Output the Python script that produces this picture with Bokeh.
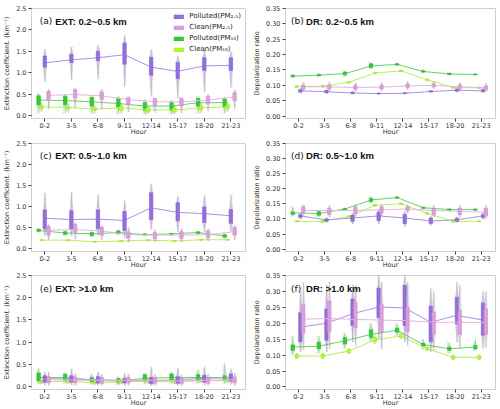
from bokeh.plotting import figure
from bokeh.layouts import gridplot
from bokeh.models import Range1d, FixedTicker, Label, Legend, LegendItem, PrintfTickFormatter
from bokeh.embed import file_html
from bokeh.resources import INLINE

hours = ["0-2", "3-5", "6-8", "9-11", "12-14", "15-17", "18-20", "21-23"]
legend_labels = ["Polluted(PM₂.₅)", "Clean(PM₂.₅)", "Polluted(PM₁₀)", "Clean(PM₁₀)"]

# ---- (a) EXT 0.2~0.5 km ----
a_p25_mean = [1.23, 1.30, 1.35, 1.42, 1.13, 1.03, 1.16, 1.17]
a_p25_q1 = [1.13, 1.24, 1.28, 1.20, 0.94, 0.86, 1.05, 1.05]
a_p25_q3 = [1.39, 1.43, 1.50, 1.69, 1.36, 1.24, 1.35, 1.35]
a_p25_lo = [0.78, 0.83, 0.85, 0.68, 0.45, 0.40, 0.55, 0.65]
a_p25_hi = [1.55, 1.60, 1.65, 1.88, 1.55, 1.40, 1.55, 1.50]
a_c25_mean = [0.47, 0.49, 0.46, 0.37, 0.32, 0.32, 0.36, 0.43]
a_c25_q1 = [0.38, 0.41, 0.38, 0.25, 0.22, 0.22, 0.27, 0.35]
a_c25_q3 = [0.56, 0.60, 0.55, 0.42, 0.40, 0.40, 0.45, 0.53]
a_c25_lo = [0.15, 0.17, 0.15, 0.08, 0.06, 0.06, 0.10, 0.15]
a_c25_hi = [0.62, 0.65, 0.62, 0.45, 0.42, 0.42, 0.50, 0.60]
a_p10_mean = [0.36, 0.35, 0.32, 0.28, 0.22, 0.22, 0.30, 0.30]
a_p10_q1 = [0.25, 0.25, 0.22, 0.20, 0.12, 0.12, 0.22, 0.20]
a_p10_q3 = [0.46, 0.45, 0.42, 0.40, 0.30, 0.30, 0.40, 0.38]
a_p10_lo = [0.05, 0.05, 0.04, 0.03, 0.02, 0.02, 0.05, 0.05]
a_p10_hi = [0.52, 0.50, 0.48, 0.45, 0.38, 0.36, 0.45, 0.44]
a_c10_mean = [0.20, 0.19, 0.15, 0.18, 0.13, 0.13, 0.18, 0.20]
a_c10_q1 = [0.17, 0.15, 0.12, 0.12, 0.08, 0.08, 0.14, 0.16]
a_c10_q3 = [0.23, 0.22, 0.18, 0.22, 0.18, 0.17, 0.22, 0.25]
a_c10_lo = [0.08, 0.07, 0.05, 0.05, 0.03, 0.03, 0.06, 0.08]
a_c10_hi = [0.30, 0.28, 0.24, 0.28, 0.25, 0.24, 0.30, 0.32]

# ---- (b) DR 0.2~0.5 km ----
b_p25_mean = [0.082, 0.079, 0.075, 0.073, 0.074, 0.080, 0.084, 0.082]
b_p25_q1 = [0.078, 0.076, 0.073, 0.072, 0.073, 0.078, 0.081, 0.079]
b_p25_q3 = [0.086, 0.083, 0.078, 0.075, 0.076, 0.082, 0.088, 0.086]
b_p25_lo = [0.074, 0.072, 0.070, 0.070, 0.071, 0.076, 0.077, 0.075]
b_p25_hi = [0.090, 0.087, 0.081, 0.077, 0.078, 0.084, 0.092, 0.090]
b_c25_mean = [0.095, 0.095, 0.093, 0.094, 0.098, 0.100, 0.095, 0.092]
b_c25_q1 = [0.088, 0.089, 0.087, 0.088, 0.093, 0.095, 0.089, 0.086]
b_c25_q3 = [0.101, 0.101, 0.099, 0.100, 0.104, 0.105, 0.101, 0.098]
b_c25_lo = [0.080, 0.081, 0.080, 0.080, 0.085, 0.088, 0.081, 0.079]
b_c25_hi = [0.110, 0.110, 0.108, 0.110, 0.113, 0.113, 0.110, 0.107]
b_p10_mean = [0.130, 0.133, 0.138, 0.163, 0.168, 0.145, 0.137, 0.135]
b_p10_q1 = [0.128, 0.131, 0.134, 0.158, 0.166, 0.143, 0.135, 0.134]
b_p10_q3 = [0.133, 0.135, 0.143, 0.170, 0.170, 0.147, 0.139, 0.137]
b_p10_lo = [0.124, 0.128, 0.128, 0.152, 0.163, 0.139, 0.132, 0.132]
b_p10_hi = [0.137, 0.139, 0.148, 0.175, 0.174, 0.152, 0.142, 0.139]
b_c10_mean = [0.096, 0.097, 0.110, 0.140, 0.147, 0.118, 0.093, 0.092]
b_c10_q1 = [0.094, 0.095, 0.108, 0.138, 0.145, 0.116, 0.091, 0.090]
b_c10_q3 = [0.098, 0.099, 0.112, 0.142, 0.149, 0.120, 0.095, 0.094]
b_c10_lo = [0.092, 0.093, 0.106, 0.136, 0.143, 0.114, 0.089, 0.088]
b_c10_hi = [0.100, 0.101, 0.114, 0.144, 0.151, 0.122, 0.097, 0.096]

# ---- (c) EXT 0.5~1.0 km ----
c_p25_mean = [0.72, 0.69, 0.70, 0.67, 0.97, 0.86, 0.83, 0.78]
c_p25_q1 = [0.47, 0.47, 0.47, 0.43, 0.69, 0.66, 0.62, 0.60]
c_p25_q3 = [0.92, 0.90, 0.92, 0.88, 1.33, 1.09, 0.99, 0.93]
c_p25_lo = [0.30, 0.30, 0.30, 0.25, 0.45, 0.40, 0.40, 0.40]
c_p25_hi = [1.33, 1.35, 1.28, 1.15, 1.55, 1.25, 1.27, 1.28]
c_c25_mean = [0.44, 0.45, 0.42, 0.33, 0.32, 0.32, 0.33, 0.40]
c_c25_q1 = [0.32, 0.38, 0.32, 0.25, 0.24, 0.24, 0.26, 0.32]
c_c25_q3 = [0.52, 0.58, 0.50, 0.40, 0.38, 0.40, 0.42, 0.50]
c_c25_lo = [0.20, 0.22, 0.20, 0.15, 0.15, 0.15, 0.18, 0.20]
c_c25_hi = [0.58, 0.62, 0.55, 0.50, 0.45, 0.48, 0.48, 0.56]
c_p10_mean = [0.43, 0.37, 0.35, 0.38, 0.33, 0.35, 0.38, 0.30]
c_p10_q1 = [0.41, 0.34, 0.31, 0.36, 0.32, 0.34, 0.36, 0.27]
c_p10_q3 = [0.46, 0.40, 0.38, 0.42, 0.35, 0.36, 0.40, 0.33]
c_p10_lo = [0.38, 0.30, 0.27, 0.32, 0.30, 0.33, 0.34, 0.24]
c_p10_hi = [0.48, 0.43, 0.41, 0.46, 0.36, 0.37, 0.41, 0.36]
c_c10_mean = [0.20, 0.20, 0.16, 0.18, 0.20, 0.18, 0.21, 0.21]
c_c10_q1 = [0.19, 0.19, 0.15, 0.17, 0.19, 0.17, 0.20, 0.20]
c_c10_q3 = [0.21, 0.21, 0.17, 0.19, 0.21, 0.19, 0.22, 0.22]
c_c10_lo = [0.18, 0.18, 0.14, 0.16, 0.18, 0.16, 0.19, 0.19]
c_c10_hi = [0.22, 0.22, 0.18, 0.20, 0.22, 0.20, 0.23, 0.23]

# ---- (d) DR 0.5~1.0 km ----
d_p25_mean = [0.110, 0.097, 0.103, 0.110, 0.103, 0.093, 0.097, 0.110]
d_p25_q1 = [0.105, 0.092, 0.092, 0.095, 0.085, 0.085, 0.092, 0.105]
d_p25_q3 = [0.114, 0.100, 0.112, 0.122, 0.115, 0.103, 0.102, 0.115]
d_p25_lo = [0.098, 0.088, 0.083, 0.083, 0.075, 0.078, 0.088, 0.098]
d_p25_hi = [0.120, 0.105, 0.118, 0.132, 0.125, 0.110, 0.108, 0.122]
d_c25_mean = [0.128, 0.128, 0.128, 0.130, 0.133, 0.128, 0.125, 0.122]
d_c25_q1 = [0.120, 0.115, 0.118, 0.120, 0.128, 0.115, 0.115, 0.110]
d_c25_q3 = [0.140, 0.135, 0.140, 0.140, 0.140, 0.135, 0.135, 0.135]
d_c25_lo = [0.110, 0.105, 0.108, 0.110, 0.118, 0.105, 0.105, 0.100]
d_c25_hi = [0.148, 0.145, 0.148, 0.148, 0.147, 0.145, 0.145, 0.145]
d_p10_mean = [0.120, 0.118, 0.133, 0.163, 0.171, 0.137, 0.131, 0.131]
d_p10_q1 = [0.115, 0.112, 0.131, 0.158, 0.169, 0.135, 0.129, 0.129]
d_p10_q3 = [0.123, 0.124, 0.135, 0.168, 0.173, 0.139, 0.133, 0.133]
d_p10_lo = [0.108, 0.106, 0.128, 0.152, 0.166, 0.132, 0.126, 0.127]
d_p10_hi = [0.142, 0.130, 0.137, 0.175, 0.176, 0.141, 0.135, 0.135]
d_c10_mean = [0.092, 0.092, 0.108, 0.145, 0.150, 0.118, 0.092, 0.092]
d_c10_q1 = [0.091, 0.089, 0.106, 0.143, 0.148, 0.116, 0.089, 0.091]
d_c10_q3 = [0.094, 0.095, 0.110, 0.147, 0.152, 0.120, 0.095, 0.093]
d_c10_lo = [0.089, 0.087, 0.104, 0.141, 0.146, 0.114, 0.087, 0.089]
d_c10_hi = [0.095, 0.097, 0.112, 0.149, 0.154, 0.122, 0.097, 0.095]

# ---- (e) EXT >1.0 km ----
e_p25_mean = [0.17, 0.17, 0.15, 0.13, 0.13, 0.15, 0.18, 0.20]
e_p25_q1 = [0.10, 0.10, 0.08, 0.08, 0.06, 0.07, 0.10, 0.12]
e_p25_q3 = [0.24, 0.24, 0.22, 0.18, 0.20, 0.22, 0.25, 0.28]
e_p25_lo = [0.03, 0.03, 0.02, 0.02, 0.02, 0.02, 0.03, 0.04]
e_p25_hi = [0.32, 0.40, 0.33, 0.30, 0.44, 0.42, 0.45, 0.40]
e_c25_mean = [0.15, 0.14, 0.14, 0.14, 0.14, 0.12, 0.14, 0.15]
e_c25_q1 = [0.08, 0.08, 0.07, 0.08, 0.07, 0.06, 0.07, 0.08]
e_c25_q3 = [0.22, 0.21, 0.20, 0.20, 0.20, 0.18, 0.20, 0.21]
e_c25_lo = [0.02, 0.02, 0.02, 0.02, 0.02, 0.02, 0.02, 0.02]
e_c25_hi = [0.32, 0.30, 0.28, 0.28, 0.28, 0.26, 0.28, 0.30]
e_p10_mean = [0.20, 0.20, 0.14, 0.12, 0.18, 0.20, 0.20, 0.20]
e_p10_q1 = [0.13, 0.14, 0.10, 0.08, 0.12, 0.14, 0.14, 0.14]
e_p10_q3 = [0.30, 0.27, 0.20, 0.18, 0.26, 0.28, 0.26, 0.24]
e_p10_lo = [0.05, 0.06, 0.04, 0.03, 0.05, 0.06, 0.06, 0.06]
e_p10_hi = [0.42, 0.32, 0.28, 0.22, 0.30, 0.33, 0.38, 0.52]
e_c10_mean = [0.10, 0.12, 0.08, 0.10, 0.12, 0.10, 0.13, 0.13]
e_c10_q1 = [0.08, 0.09, 0.06, 0.08, 0.10, 0.08, 0.11, 0.11]
e_c10_q3 = [0.12, 0.14, 0.10, 0.12, 0.14, 0.12, 0.15, 0.15]
e_c10_lo = [0.05, 0.06, 0.04, 0.05, 0.06, 0.05, 0.07, 0.07]
e_c10_hi = [0.16, 0.18, 0.13, 0.16, 0.18, 0.16, 0.19, 0.19]

# ---- (f) DR >1.0 km ----
f_p25_mean = [0.188, 0.200, 0.230, 0.251, 0.248, 0.203, 0.225, 0.210]
f_p25_q1 = [0.142, 0.147, 0.193, 0.218, 0.193, 0.142, 0.198, 0.162]
f_p25_q3 = [0.233, 0.245, 0.276, 0.311, 0.319, 0.254, 0.282, 0.264]
f_p25_lo = [0.110, 0.110, 0.140, 0.150, 0.140, 0.110, 0.140, 0.120]
f_p25_hi = [0.300, 0.320, 0.320, 0.350, 0.350, 0.310, 0.330, 0.300]
f_c25_mean = [0.213, 0.215, 0.212, 0.210, 0.208, 0.203, 0.203, 0.202]
f_c25_q1 = [0.170, 0.175, 0.185, 0.170, 0.175, 0.165, 0.165, 0.165]
f_c25_q3 = [0.260, 0.270, 0.265, 0.260, 0.250, 0.235, 0.240, 0.245]
f_c25_lo = [0.115, 0.120, 0.130, 0.120, 0.130, 0.115, 0.120, 0.125]
f_c25_hi = [0.330, 0.330, 0.320, 0.330, 0.330, 0.300, 0.320, 0.300]
f_p10_mean = [0.125, 0.128, 0.145, 0.165, 0.178, 0.133, 0.120, 0.125]
f_p10_q1 = [0.115, 0.120, 0.135, 0.155, 0.172, 0.128, 0.115, 0.120]
f_p10_q3 = [0.132, 0.140, 0.155, 0.180, 0.185, 0.137, 0.125, 0.130]
f_p10_lo = [0.100, 0.105, 0.120, 0.140, 0.160, 0.118, 0.105, 0.112]
f_p10_hi = [0.160, 0.160, 0.170, 0.200, 0.200, 0.150, 0.140, 0.150]
f_c10_mean = [0.097, 0.097, 0.113, 0.148, 0.160, 0.120, 0.093, 0.093]
f_c10_q1 = [0.092, 0.092, 0.108, 0.142, 0.155, 0.116, 0.088, 0.088]
f_c10_q3 = [0.102, 0.103, 0.118, 0.155, 0.166, 0.124, 0.098, 0.098]
f_c10_lo = [0.088, 0.088, 0.103, 0.135, 0.150, 0.112, 0.084, 0.084]
f_c10_hi = [0.107, 0.108, 0.123, 0.162, 0.172, 0.128, 0.102, 0.102]

# group styles: fill, edge, line colour, dot colour
STYLE = {
    "p25": ("#9370DB", "#7f5cc8", "#a993e3", "#a0a0a0"),
    "c25": ("#DDA0DD", "#c98bc9", "#e4b6e4", "#b0b0b0"),
    "p10": ("#32CD32", "#27ad27", "#62d462", "#52c652"),
    "c10": ("#ADFF2F", "#98e01e", "#bdee55", "#a8dc48"),
}
FONT = "DejaVu Sans"


def draw_group(p, off, mean, q1, q3, lo, hi, key, bw=0.13, dot_dx=0.04):
    fill, edge, lcol, dcol = STYLE[key]
    xs = [i + off for i in range(len(hours))]
    # faint violin outline spanning the data range
    w = bw * 0.6
    vx = [[x, x + w, x + w, x, x - w, x - w] for x in xs]
    vy = [[l, a, b, h, b, a] for a, b, l, h in zip(q1, q3, lo, hi)]
    p.patches(vx, vy, fill_color=fill, fill_alpha=0.25, line_color=None)
    # whiskers
    p.segment(xs, lo, xs, hi, line_color="#a0a0a0", line_width=0.6)
    # jittered observations, drawn as a dotted strip
    dx = [x + dot_dx for x in xs]
    p.segment(dx, lo, dx, hi, line_color=dcol, line_width=0.8, line_dash="1 1", line_alpha=0.6)
    # diurnal mean line
    p.line(xs, mean, line_color=lcol, line_width=1.0)
    # interquartile box
    r = p.quad(left=[x - bw / 2 for x in xs], right=[x + bw / 2 for x in xs],
               bottom=q1, top=q3, fill_color=fill, line_color=edge, line_width=0.5)
    return r


def make_panel(tag, title, data, ext, height, top, offsets, legend=False):
    if ext:
        yr = Range1d(-0.07, 2.5)
        ticks = [0.0, 0.5, 1.0, 1.5, 2.0, 2.5]
        fmt = "%.1f"
        ylabel = "Extinction coefficient. (km⁻¹)"
        bl = 25
    else:
        yr = Range1d(-0.008, 0.35)
        ticks = [0.0, 0.05, 0.10, 0.15, 0.20, 0.25, 0.30, 0.35]
        fmt = "%.2f"
        ylabel = "Depolarization ratio"
        bl = 31
    p = figure(width=250, height=height, x_range=Range1d(-0.5, 7.55), y_range=yr,
               output_backend="svg", toolbar_location=None,
               min_border_left=bl, min_border_right=5, min_border_top=top, min_border_bottom=12)
    p.background_fill_color = "white"
    p.border_fill_color = "white"
    p.outline_line_color = "#cfcfcf"
    p.xgrid.visible = False
    p.ygrid.visible = False

    p.xaxis.ticker = FixedTicker(ticks=list(range(len(hours))))
    p.xaxis.major_label_overrides = {i: h for i, h in enumerate(hours)}
    p.yaxis.ticker = FixedTicker(ticks=ticks)
    p.yaxis.formatter = PrintfTickFormatter(format=fmt)
    p.xaxis.axis_label = "Hour"
    p.yaxis.axis_label = ylabel
    for ax in (p.xaxis[0], p.yaxis[0]):
        ax.axis_line_color = "#cfcfcf"
        ax.major_tick_line_color = "#444444"
        ax.major_tick_in = 0
        ax.major_tick_out = 3
        ax.minor_tick_line_color = None
        ax.major_label_text_font = FONT
        ax.major_label_text_font_size = "6.5px"
        ax.major_label_text_color = "#333333"
        ax.axis_label_text_font = FONT
        ax.axis_label_text_font_size = "6.5px"
        ax.axis_label_text_font_style = "normal"
        ax.axis_label_text_color = "#333333"
    p.xaxis.major_label_standoff = 1
    p.xaxis.axis_label_standoff = -3
    p.yaxis.major_label_standoff = 2
    p.yaxis.axis_label_standoff = 2

    o_p10, o_c10, o_p25, o_c25 = offsets
    rs = {}
    rs["p10"] = draw_group(p, o_p10, *data["p10"], "p10", dot_dx=-0.07)
    rs["c10"] = draw_group(p, o_c10, *data["c10"], "c10", dot_dx=-0.05)
    rs["p25"] = draw_group(p, o_p25, *data["p25"], "p25")
    rs["c25"] = draw_group(p, o_c25, *data["c25"], "c25")

    yspan = yr.end - yr.start
    ty = yr.end - 0.115 * yspan
    tx0 = -0.19 if ext else -0.29
    p.add_layout(Label(x=tx0, y=ty, text=tag, text_font=FONT, text_font_size="9px",
                       text_baseline="middle", text_color="#111111"))
    p.add_layout(Label(x=tx0 + 0.58, y=ty, text=title, text_font="Liberation Sans",
                       text_font_size="9.5px", text_font_style="bold",
                       text_baseline="middle", text_color="#111111"))

    if legend:
        items = [LegendItem(label=legend_labels[0], renderers=[rs["p25"]]),
                 LegendItem(label=legend_labels[1], renderers=[rs["c25"]]),
                 LegendItem(label=legend_labels[2], renderers=[rs["p10"]]),
                 LegendItem(label=legend_labels[3], renderers=[rs["c10"]])]
        lg = Legend(items=items, location="top_right", margin=4, padding=2,
                    spacing=3, glyph_width=12, glyph_height=5, label_height=8,
                    label_width=30, label_standoff=5,
                    label_text_font=FONT, label_text_font_size="7px",
                    label_text_color="#222222", border_line_color=None,
                    background_fill_alpha=0.0)
        p.add_layout(lg)
    return p


def pack(prefix):
    g = globals()
    return {k: [g[f"{prefix}_{k}_{s}"] for s in ("mean", "q1", "q3", "lo", "hi")]
            for k in ("p25", "c25", "p10", "c10")}


LEFT_OFF = (-0.23, -0.12, 0.0, 0.14)
RIGHT_OFF = (-0.22, -0.07, 0.07, 0.18)

pa = make_panel("(a)", "EXT: 0.2~0.5 km", pack("a"), True, 138, 8, LEFT_OFF, legend=True)
pb = make_panel("(b)", "DR: 0.2~0.5 km", pack("b"), False, 138, 8, RIGHT_OFF)
pc = make_panel("(c)", "EXT: 0.5~1.0 km", pack("c"), True, 133, 5, LEFT_OFF)
pd = make_panel("(d)", "DR: 0.5~1.0 km", pack("d"), False, 133, 5, RIGHT_OFF)
pe = make_panel("(e)", "EXT: >1.0 km", pack("e"), True, 138, 4, LEFT_OFF)
pf = make_panel("(f)", "DR: >1.0 km", pack("f"), False, 138, 4, RIGHT_OFF)

grid = gridplot([[pa, pb], [pc, pd], [pe, pf]], toolbar_location=None)

open("out.html", "w").write(file_html(grid, INLINE))
